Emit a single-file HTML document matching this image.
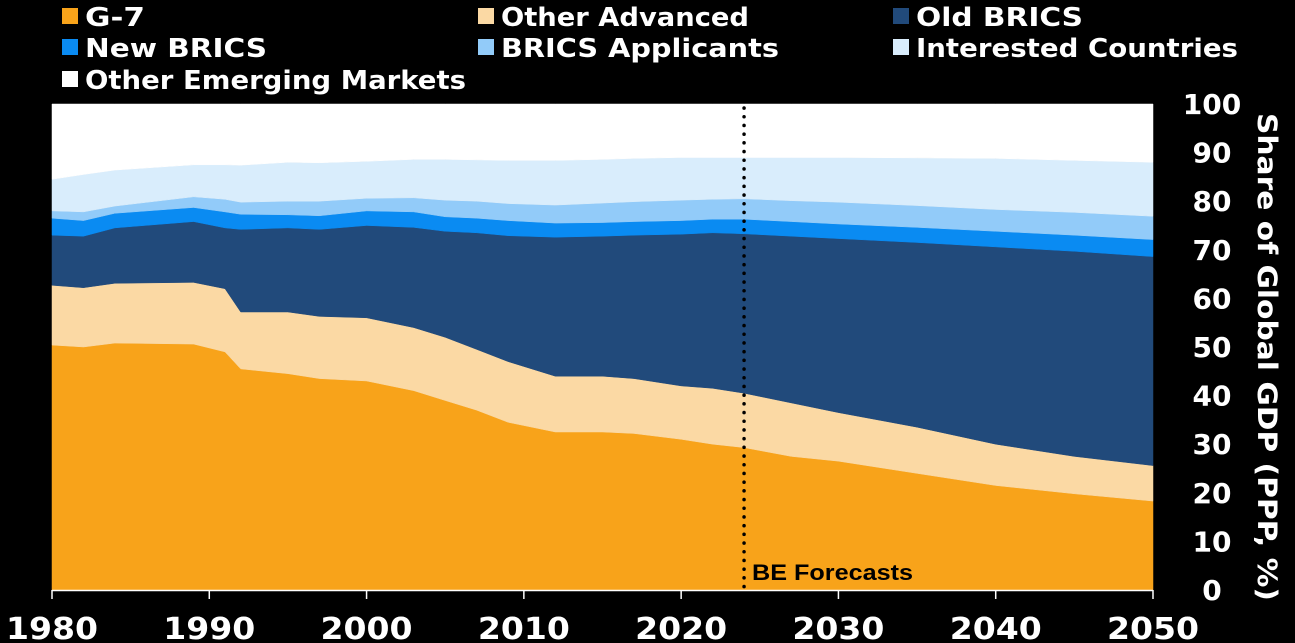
<!DOCTYPE html>
<html><head><meta charset="utf-8"><style>
html,body{margin:0;padding:0;background:#000;}
svg{display:block;}
text{font-family:"DejaVu Sans","Liberation Sans",sans-serif;font-weight:bold;}
</style></head><body>
<svg id="chart" width="1295" height="643" viewBox="0 0 1295 643" xmlns="http://www.w3.org/2000/svg">
<rect width="1295" height="643" fill="#000"/>
<g id="legend"></g>
<g id="areas"></g>
<g id="axes"></g>
</svg>
<script>
const years = [1980,1982,1984,1989,1991,1992,1995,1997,2000,2003,2005,2007,2009,2012,2015,2017,2020,2022,2024,2027,2030,2035,2040,2045,2050];
const g7 = [50.4,50.0,50.8,50.6,49.0,45.5,44.5,43.5,43.0,41.0,39.0,37.0,34.5,32.5,32.5,32.2,31.0,30.0,29.3,27.5,26.5,24.0,21.5,19.8,18.3];
const otherAdvanced = [12.3,12.2,12.3,12.7,13.0,11.7,12.7,12.8,13.0,13.0,13.0,12.5,12.5,11.5,11.5,11.3,11.0,11.5,11.2,11.0,10.0,9.5,8.5,7.7,7.3];
const oldBrics = [10.3,10.6,11.4,12.5,12.5,17.0,17.3,17.9,19.0,20.6,21.8,24.0,25.9,28.6,28.8,29.5,31.2,32.0,32.8,34.3,35.8,38.0,40.6,42.2,43.0];
const newBrics = [3.5,3.2,3.0,2.9,3.3,3.1,2.7,2.8,3.0,3.2,3.0,3.0,3.1,2.9,2.8,2.8,2.8,2.8,3.0,3.0,3.0,3.1,3.2,3.3,3.5];
const bricsApplicants = [1.5,1.8,1.5,2.2,2.6,2.5,2.8,3.0,2.6,2.9,3.4,3.5,3.5,3.7,4.0,4.1,4.2,4.1,4.2,4.3,4.5,4.5,4.5,4.7,4.8];
const interested = [6.5,7.7,7.4,6.6,7.1,7.6,8.0,7.9,7.6,7.9,8.4,8.5,8.9,9.2,9.0,8.9,8.8,8.6,8.5,8.9,9.2,9.8,10.5,10.7,11.1];
const otherEmerging = [15.5,14.5,13.6,12.5,12.5,12.6,12.0,12.1,11.8,11.4,11.4,11.5,11.6,11.6,11.4,11.2,11.0,11.0,11.0,11.0,11.0,11.1,11.2,11.6,12.0];
const seriesNames = ["G-7","Other Advanced","Old BRICS","New BRICS","BRICS Applicants","Interested Countries","Other Emerging Markets"];
const xTicks = [1980,1990,2000,2010,2020,2030,2040,2050];
const yTicks = [0,10,20,30,40,50,60,70,80,90,100];
const forecastYear = 2024;

const seriesData = [g7,otherAdvanced,oldBrics,newBrics,bricsApplicants,interested,otherEmerging];
const colors = ["#F8A31A","#FBD9A4","#214A7B","#0A8BF2","#92CBF9","#D9EDFC","#FFFFFF"];
const keys = ["g-7","other-advanced","old-brics","new-brics","brics-applicants","interested-countries","other-emerging-markets"];
const NS="http://www.w3.org/2000/svg";
const X0=52,X1=1153,Y0=590,Y1=104;
const xs=y=>X0+(y-1980)/(2050-1980)*(X1-X0);
const ys=v=>Y0-v/100*(Y0-Y1);
function mk(tag,attrs,parent){const e=document.createElementNS(NS,tag);for(const k in attrs)e.setAttribute(k,attrs[k]);parent.appendChild(e);return e;}

const areas=document.getElementById('areas');
let base=years.map(()=>0);
seriesData.forEach((s,i)=>{
  const top=base.map((b,j)=>b+s[j]);
  let d="M"+years.map((y,j)=>xs(y).toFixed(1)+","+ys(top[j]).toFixed(1)).join("L");
  for(let j=years.length-1;j>=0;j--) d+="L"+xs(years[j]).toFixed(1)+","+ys(base[j]).toFixed(1);
  d+="Z";
  const p=mk('path',{d:d,fill:colors[i],stroke:colors[i],'stroke-width':0.5},areas);
  
  
  base=top;
});

const axes=document.getElementById('axes');
// forecast line
const fl=mk('line',{x1:xs(forecastYear),x2:xs(forecastYear),y1:108,y2:Y0,stroke:'#000','stroke-width':3.5,'stroke-dasharray':'0.1 8.6','stroke-linecap':'round'},axes);


const ft=mk('text',{x:xs(forecastYear)+8,y:580,fill:'#000','font-size':22,textLength:161,lengthAdjust:'spacingAndGlyphs',style:'font-family:"Liberation Sans",sans-serif'},axes);
ft.textContent="BE Forecasts";


// x axis
const xl=mk('line',{x1:X0,x2:X1,y1:Y0+0.5,y2:Y0+0.5,stroke:'#fff','stroke-width':1.5},axes);


xTicks.forEach(t=>{
  const tk=mk('line',{x1:xs(t),x2:xs(t),y1:Y0,y2:Y0+9,stroke:'#fff','stroke-width':1.5},axes);
  
  
  const tx=mk('text',{x:xs(t),y:639,fill:'#fff','font-size':30,'text-anchor':'middle',textLength:92,lengthAdjust:'spacingAndGlyphs'},axes);
  tx.textContent=t;
  
  
});
yTicks.forEach(t=>{
  const tx=mk('text',{x:1212,y:ys(t)+10,fill:'#fff','font-size':28,'text-anchor':'middle'},axes);
  tx.textContent=t;
  
  
});
const yt=mk('text',{x:0,y:0,fill:'#fff','font-size':27,'text-anchor':'middle',textLength:488,lengthAdjust:'spacingAndGlyphs',transform:'translate(1258,357) rotate(90)'},axes);
yt.textContent="Share of Global GDP (PPP, %)";



// legend
const legend=document.getElementById('legend');
const lx=[62,478,893], ly=[16,47,79];
const lw=[60,248,167,182,278,322,381];
seriesNames.forEach((n,i)=>{
  const x=lx[i%3], y=ly[Math.floor(i/3)];
  const g=mk('g',{},legend);
  
  
  mk('rect',{x:x,y:y-8,width:16,height:16,fill:colors[i]},g);
  const t=mk('text',{x:x+23,y:y+10,fill:'#fff','font-size':26,textLength:lw[i],lengthAdjust:'spacingAndGlyphs'},g);
  t.textContent=n;
});
</script>
</body></html>
